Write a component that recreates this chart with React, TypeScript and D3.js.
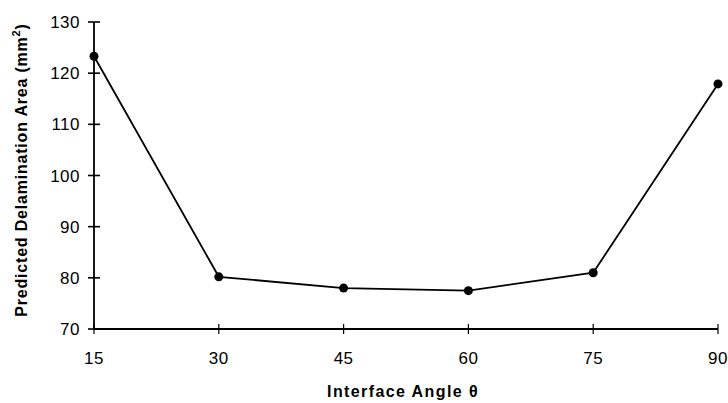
import React, { useEffect, useRef } from "react";
import * as d3 from "d3";

const angles = [15, 30, 45, 60, 75, 90];
const areas = [123.3, 80.2, 78.0, 77.5, 81.0, 117.9];
const yTicks = [70, 80, 90, 100, 110, 120, 130];

const W = 728;
const H = 403;

const App = () => {
  const svgRef = useRef(null);

  useEffect(() => {
    const svg = d3.select(svgRef.current);
    svg.selectAll("*").remove();

    const x = d3.scaleLinear().domain([15, 90]).range([94, 718]);
    const y = d3.scaleLinear().domain([70, 130]).range([329, 22]);
    const font = "'Liberation Sans', Arial, sans-serif";

    // y axis
    svg.append("line")
      .attr("x1", x(15)).attr("x2", x(15))
      .attr("y1", y(130)).attr("y2", y(70))
      .attr("stroke", "#000").attr("stroke-width", 1.8);
    svg.selectAll(".ytick")
      .data(yTicks)
      .join("line")
      .attr("x1", x(15) - 6).attr("x2", x(15) + 6)
      .attr("y1", (d) => y(d)).attr("y2", (d) => y(d))
      .attr("stroke", "#000").attr("stroke-width", 1.6);
    svg.selectAll(".ylab")
      .data(yTicks)
      .join("text")
      .attr("x", x(15) - 14)
      .attr("y", (d) => y(d))
      .attr("dy", "0.36em")
      .attr("text-anchor", "end")
      .attr("font-family", font)
      .attr("font-size", 17)
      .attr("letter-spacing", 0.5)
      .text((d) => d);

    // x axis
    svg.append("line")
      .attr("x1", x(15)).attr("x2", x(90))
      .attr("y1", y(70)).attr("y2", y(70))
      .attr("stroke", "#000").attr("stroke-width", 1.8);
    svg.selectAll(".xtick")
      .data(angles)
      .join("line")
      .attr("x1", (d) => x(d)).attr("x2", (d) => x(d))
      .attr("y1", y(70) - 5).attr("y2", y(70) + 5)
      .attr("stroke", "#000").attr("stroke-width", 1.2);
    svg.selectAll(".xlab")
      .data(angles)
      .join("text")
      .attr("x", (d) => x(d))
      .attr("y", 358)
      .attr("dy", "0.36em")
      .attr("text-anchor", "middle")
      .attr("font-family", font)
      .attr("font-size", 17)
      .attr("letter-spacing", 0.5)
      .text((d) => d);

    // axis titles
    svg.append("text")
      .attr("x", 403).attr("y", 397)
      .attr("text-anchor", "middle")
      .attr("font-family", font)
      .attr("font-weight", "bold")
      .attr("font-size", 16)
      .attr("letter-spacing", 1.4)
      .text("Interface Angle θ");

    const yt = svg.append("text")
      .attr("transform", `translate(27, 170) rotate(-90)`)
      .attr("text-anchor", "middle")
      .attr("font-family", font)
      .attr("font-weight", "bold")
      .attr("font-size", 16)
      .attr("letter-spacing", 0.8);
    yt.append("tspan").text("Predicted Delamination Area (mm");
    yt.append("tspan").attr("font-size", 11).attr("dy", "-0.6em").text("2");
    yt.append("tspan").attr("dy", "0.4em").text(")");

    // series line
    const pts = angles.map((a, i) => [a, areas[i]]);
    const line = d3.line().x((d) => x(d[0])).y((d) => y(d[1]));
    svg.append("path")
      .attr("d", line(pts))
      .attr("fill", "none")
      .attr("stroke", "#000")
      .attr("stroke-width", 1.8);
    svg.selectAll(".pt")
      .data(pts)
      .join("circle")
      .attr("cx", (d) => x(d[0]))
      .attr("cy", (d) => y(d[1]))
      .attr("r", 4.5)
      .attr("fill", "#000");
  }, []);

  return (
    <svg
      ref={svgRef}
      width={W}
      height={H}
      style={{ position: "absolute", left: 0, top: 0, background: "#fff" }}
    ></svg>
  );
};

export default App;
